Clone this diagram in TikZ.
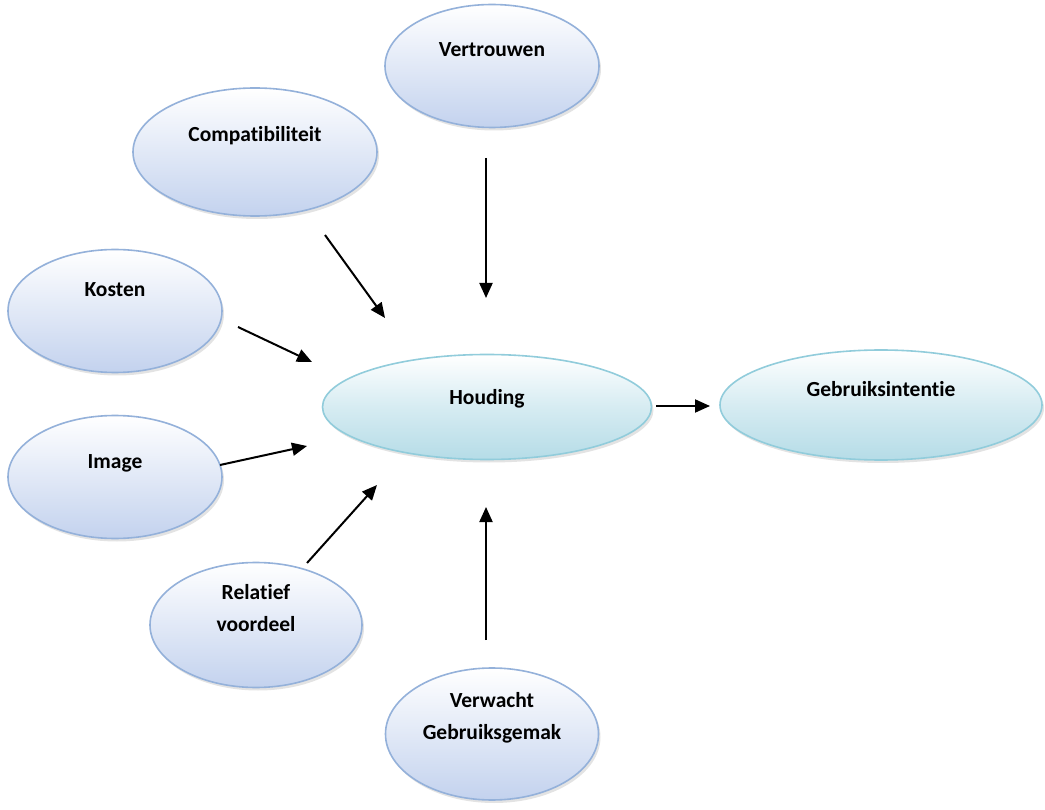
\documentclass[tikz,border=0pt]{standalone}
\usepackage{fontspec}
\setmainfont{Carlito}[RawFeature=-liga]
\usetikzlibrary{shapes.geometric,arrows.meta,shadows}
\definecolor{outline}{HTML}{94B1DA}
\definecolor{outfill}{HTML}{C3D2EE}
\definecolor{inline}{HTML}{91CCDB}
\definecolor{infill}{HTML}{B5DCE7}
\tikzset{
  bubble/.style={ellipse, line width=1.6pt, font=\bfseries\fontsize{21.5}{32}\selectfont,
    align=center, inner sep=0pt, text height=14pt,
    drop shadow={opacity=0.22, shadow xshift=2pt, shadow yshift=-3pt}},
  outer/.style={bubble, draw=outline, top color=white, bottom color=outfill, middle color=white!50!outfill},
  inner/.style={bubble, draw=inline, top color=white, bottom color=infill, middle color=white!45!infill},
  conn/.style={line width=2pt, -{Triangle[length=15pt,width=13pt]}}
}
\begin{document}
\begin{tikzpicture}[x=1pt,y=-1pt]
\useasboundingbox (0,0) rectangle (1045,810);
\fill[white] (0,0) rectangle (1045,810);
\node[outer, minimum width=214pt, minimum height=123pt, text depth=33pt] (vert) at (492,66) {Vertrouwen};
\node[outer, minimum width=244pt, minimum height=128pt, text depth=35pt] (comp) at (255,152) {Compatibiliteit};
\node[outer, minimum width=214pt, minimum height=123pt, text depth=43pt] (kost) at (115,311) {Kosten};
\node[outer, minimum width=214pt, minimum height=123pt, text depth=31pt] (imag) at (115,477) {Image};
\node[outer, minimum width=212pt, minimum height=125pt] (rela) at (256,625) {Relatief\\voordeel};
\node[outer, minimum width=213pt, minimum height=132pt] (verw) at (492,734) {Verwacht\\Gebruiksgemak};
\node[inner, minimum width=329pt, minimum height=105pt, text depth=19pt] (houd) at (487,407) {Houding};
\node[inner, minimum width=322pt, minimum height=110pt, text depth=31pt] (gebr) at (881,405) {Gebruiksintentie};
\coordinate (a1s) at (486,158); \coordinate (a1e) at (486,298);
\coordinate (a2s) at (325,235); \coordinate (a2e) at (385,318);
\coordinate (a3s) at (238,327); \coordinate (a3e) at (312,362);
\coordinate (a4s) at (220,465); \coordinate (a4e) at (307,446);
\coordinate (a5s) at (307,563); \coordinate (a5e) at (377,485);
\coordinate (a6s) at (486,640); \coordinate (a6e) at (486,507);
\coordinate (a7s) at (656,406); \coordinate (a7e) at (710,406);
\draw[conn] (a1s) -- (a1e);
\draw[conn] (a2s) -- (a2e);
\draw[conn] (a3s) -- (a3e);
\draw[conn] (a4s) -- (a4e);
\draw[conn] (a5s) -- (a5e);
\draw[conn] (a6s) -- (a6e);
\draw[conn] (a7s) -- (a7e);
\end{tikzpicture}
\end{document}
